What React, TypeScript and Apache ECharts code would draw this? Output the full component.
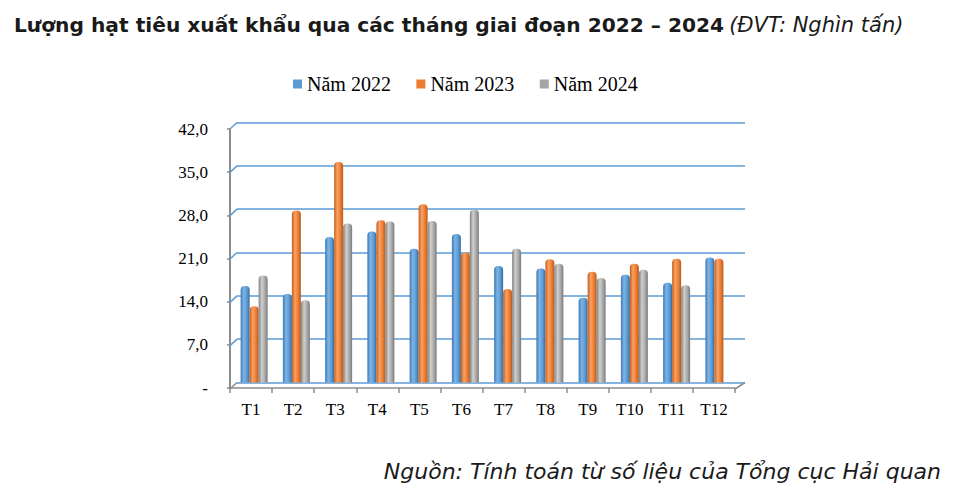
import React, { useEffect, useRef } from "react";
import * as echarts from "echarts";

const months = ["T1", "T2", "T3", "T4", "T5", "T6", "T7", "T8", "T9", "T10", "T11", "T12"];
const y2022 = [15.6, 14.3, 23.5, 24.4, 21.6, 24.0, 18.8, 18.4, 13.7, 17.4, 16.1, 20.2];
const y2023 = [12.3, 27.8, 35.6, 26.2, 28.8, 21.0, 15.1, 19.9, 17.9, 19.2, 20.0, 20.0];
const y2024 = [17.3, 13.3, 25.7, 26.0, 26.1, 27.9, 21.6, 19.2, 16.9, 18.2, 15.7, null];
const yTicks = [0, 7, 14, 21, 28, 35, 42];
const seriesNames = ["Năm 2022", "Năm 2023", "Năm 2024"];

const baseColors = ["#5B9BD5", "#ED7D31", "#A5A5A5"];
const gradStops = [
  ["#3E78B2", "#7DB4E6", "#5B9BD5", "#386B9C"],
  ["#C45E1C", "#F9A265", "#ED7D31", "#B35A1F"],
  ["#808080", "#CFCFCF", "#A8A8A8", "#7A7A7A"],
];

function grad(i: number) {
  const s = gradStops[i];
  return new echarts.graphic.LinearGradient(0, 0, 1, 0, [
    { offset: 0, color: s[0] },
    { offset: 0.35, color: s[1] },
    { offset: 0.7, color: s[2] },
    { offset: 1, color: s[3] },
  ]);
}

export default function App() {
  const ref = useRef<HTMLDivElement>(null);
  useEffect(() => {
    if (!ref.current) return;
    const chart = echarts.init(ref.current, null, { renderer: "svg" });
    const serif = "Liberation Serif";
    const data = [y2022, y2023, y2024];
    chart.setOption({
      animation: false,
      backgroundColor: "#ffffff",
      title: {
        left: 9,
        top: 9,
        text: "{b|Lượng hạt tiêu xuất khẩu qua các tháng giai đoạn 2022 – 2024} {i|(ĐVT: Nghìn tấn)}",
        textStyle: {
          rich: {
            b: { fontFamily: "DejaVu Sans", fontWeight: "bold", fontSize: 20.2, color: "#1a1a1a" },
            i: { fontFamily: "DejaVu Sans", fontWeight: "normal", fontStyle: "italic", fontSize: 21, color: "#1a1a1a" },
          },
        },
      },
      legend: {
        left: 288,
        top: 69,
        itemWidth: 9,
        itemHeight: 9,
        itemGap: 25.5,
        icon: "rect",
        textStyle: { fontFamily: serif, fontSize: 20, color: "#000" },
        data: seriesNames.map((n, i) => ({ name: n, itemStyle: { color: baseColors[i] } })),
      },
      grid: [
        { left: 237, right: 208, top: 122.5, bottom: 114.5 },
        { left: 233, right: 213, top: 122.5, bottom: 114.5 },
        { left: 230, right: 218, top: 129, bottom: 109 },
      ],
      xAxis: [
        { gridIndex: 0, type: "value", min: 0, max: 1, show: false },
        { gridIndex: 1, type: "category", data: months, show: false },
        {
          gridIndex: 2,
          type: "category",
          data: months,
          axisLine: { lineStyle: { color: "#8C8C8C", width: 1.5 } },
          axisTick: { show: true, length: 5, lineStyle: { color: "#8C8C8C", width: 1.5 } },
          axisLabel: { fontFamily: serif, fontSize: 17, color: "#000", margin: 13 },
        },
      ],
      yAxis: [
        {
          gridIndex: 0,
          type: "value",
          min: 0,
          max: 42,
          interval: 7,
          axisLine: { show: false },
          axisTick: { show: false },
          axisLabel: { show: false },
          splitLine: { lineStyle: { color: "#5B9BD5", width: 1.5 } },
        },
        { gridIndex: 1, type: "value", min: 0, max: 42, interval: 7, show: false, splitLine: { show: false } },
        {
          gridIndex: 2,
          type: "value",
          min: 0,
          max: 42,
          interval: 7,
          splitLine: { show: false },
          axisLine: { show: true, lineStyle: { color: "#8C8C8C", width: 2 } },
          axisTick: { show: true, length: 3, lineStyle: { color: "#8C8C8C", width: 1.5 } },
          axisLabel: {
            fontFamily: serif,
            fontSize: 17,
            color: "#000",
            margin: 22,
            formatter: (v: number) => (v === 0 ? "-" : v.toFixed(1).replace(".", ",")),
          },
        },
      ],
      series: [
        ...seriesNames.map((n, i) => ({
          name: n,
          type: "bar",
          xAxisIndex: 1,
          yAxisIndex: 1,
          data: data[i],
          barWidth: 9,
          barGap: "0%",
          itemStyle: { color: grad(i), borderRadius: [4, 4, 0, 0] },
        })),
        {
          type: "custom",
          xAxisIndex: 0,
          yAxisIndex: 0,
          silent: true,
          data: yTicks.map((t) => [0, t]),
          renderItem: (params: any, api: any) => {
            const v = api.value(1);
            const p = api.coord([0, v]);
            const children: any[] = [
              {
                type: "line",
                shape: { x1: p[0] - 7, y1: p[1] + 6.5, x2: p[0], y2: p[1] },
                style: { stroke: v === 0 ? "#8C8C8C" : "#5B9BD5", lineWidth: 1.5 },
              },
            ];
            if (v === 0) {
              const q = api.coord([1, 0]);
              children.push({
                type: "line",
                shape: { x1: q[0] - 10, y1: q[1] + 6.5, x2: q[0], y2: q[1] },
                style: { stroke: "#8C8C8C", lineWidth: 1.5 },
              });
            }
            return { type: "group", children };
          },
        },
      ],
      graphic: [
        {
          type: "text",
          right: 12,
          top: 460,
          style: {
            text: "Nguồn: Tính toán từ số liệu của Tổng cục Hải quan",
            fontFamily: "DejaVu Sans",
            fontStyle: "italic",
            fontSize: 22,
            fill: "#1a1a1a",
          },
        },
      ],
    });
    return () => chart.dispose();
  }, []);
  return <div ref={ref} style={{ position: "absolute", left: 0, top: 0, width: 953, height: 497 }} />;
}
